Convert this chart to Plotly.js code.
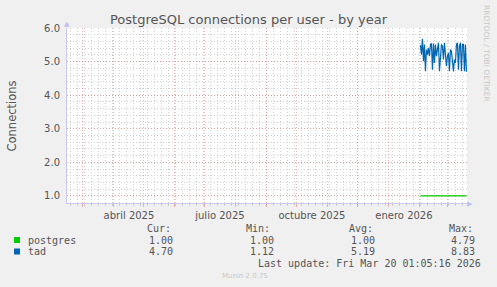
<!DOCTYPE html>
<html>
<head>
<meta charset="utf-8">
<script src="https://cdn.plot.ly/plotly-3.0.1.min.js"></script>
<style>
  html, body { margin: 0; padding: 0; background: #f0f0f0; }
  #chart { width: 497px; height: 287px; }
</style>
</head>
<body>
<div id="chart"></div>
<script>
// ---- data ----
const seriesNames = ['postgres', 'tad'];
const seriesColors = ['#00cc00', '#0066b3'];
const dates = [
  '2026-02-01 12:00','2026-02-02 12:00','2026-02-03 12:00','2026-02-04 12:00','2026-02-05 12:00',
  '2026-02-06 12:00','2026-02-07 12:00','2026-02-08 12:00','2026-02-09 12:00','2026-02-10 12:00',
  '2026-02-11 12:00','2026-02-12 12:00','2026-02-13 12:00','2026-02-14 12:00','2026-02-15 12:00',
  '2026-02-16 12:00','2026-02-17 12:00','2026-02-18 12:00','2026-02-19 12:00','2026-02-20 12:00',
  '2026-02-21 12:00','2026-02-22 12:00','2026-02-23 12:00','2026-02-24 12:00','2026-02-25 12:00',
  '2026-02-26 12:00','2026-02-27 12:00','2026-02-28 12:00','2026-03-01 12:00','2026-03-02 12:00',
  '2026-03-03 12:00','2026-03-04 12:00','2026-03-05 12:00','2026-03-06 12:00','2026-03-07 12:00',
  '2026-03-08 12:00','2026-03-09 12:00','2026-03-10 12:00','2026-03-11 12:00','2026-03-12 12:00',
  '2026-03-13 12:00','2026-03-14 12:00','2026-03-15 12:00','2026-03-16 12:00','2026-03-17 12:00',
  '2026-03-18 12:00','2026-03-19 12:00'
];
const postgresValues = [
  1.00,1.00,1.00,1.00,1.00,1.00,1.00,1.00,1.00,1.00,
  1.00,1.00,1.00,1.00,1.00,1.00,1.00,1.00,1.00,1.00,
  1.00,1.00,1.00,1.00,1.00,1.00,1.00,1.00,1.00,1.00,
  1.00,1.00,1.00,1.00,1.00,1.00,1.00,1.00,1.00,1.00,
  1.00,1.00,1.00,1.00,1.00,1.00,1.00
];
const tadValues = [
  5.49,5.21,5.68,5.01,5.51,4.71,5.36,5.21,5.41,5.16,
  5.51,5.54,4.76,5.54,4.96,5.51,5.16,5.36,5.56,4.71,
  5.26,5.51,5.46,5.06,5.56,5.11,4.86,5.16,5.26,4.71,
  5.36,5.31,5.01,4.71,5.06,4.96,5.51,5.56,4.76,5.46,
  5.56,4.71,5.51,5.51,4.71,5.51,4.70
];
const statCur = ['1.00', '4.70'];
const statMin = ['1.00', '1.12'];
const statAvg = ['1.00', '5.19'];
const statMax = ['4.79', '8.83'];
const statHeaders = ['Cur:', 'Min:', 'Avg:', 'Max:'];
const monthTicks = ['2025-03-01','2025-04-01','2025-05-01','2025-06-01','2025-07-01','2025-08-01',
  '2025-09-01','2025-10-01','2025-11-01','2025-12-01','2026-01-01','2026-02-01','2026-03-01'];
const monthLabels = ['','abril 2025','','','julio 2025','','','octubre 2025','','','enero 2026','',''];
const yTicks = [1, 2, 3, 4, 5, 6];
const rangeStart = '2025-02-13 01:05:16';
const rangeEnd = '2026-03-20 01:05:16';
const titleText = 'PostgreSQL connections per user - by year';
const yTitle = 'Connections';
const lastUpdate = 'Last update: Fri Mar 20 01:05:16 2026';
const versionText = 'Munin 2.0.75';
const sideText = 'RRDTOOL / TOBI OETIKER';

// ---- layout helpers (page px -> paper coords) ----
const W = 497, H = 287, L = 67, R = 30, T = 28, B = 84;
const PW = W - L - R, PH = H - T - B;
const px = x => (x - L) / PW;
const py = y => (H - B - y) / PH;

const mono = { family: 'DejaVu Sans Mono', size: 10, color: '#555' };
const annotations = [];
function txt(x, y, text, anchor, font, extra) {
  annotations.push(Object.assign({ xref: 'paper', yref: 'paper', x: px(x), y: py(y), text: text,
    showarrow: false, xanchor: anchor, yanchor: 'middle', font: font }, extra || {}));
}
// headers
const headerLeft = [145, 244, 346.5, 446.5];
statHeaders.forEach((h, i) => txt(headerLeft[i], 228, h, 'left', mono));
// rows
const rowY = [240, 251.5];
const colRight = [175, 275.5, 376.5, 477];
const shapes = [];
seriesNames.forEach((n, i) => {
  txt(26, rowY[i], n, 'left', mono);
  [statCur, statMin, statAvg, statMax].forEach((arr, j) => txt(colRight[j], rowY[i], arr[i], 'right', mono));
  shapes.push({ type: 'rect', xref: 'paper', yref: 'paper', x0: px(14), x1: px(20), y0: py(rowY[i] + 3), y1: py(rowY[i] - 3),
    fillcolor: seriesColors[i], line: { width: 0 } });
});
txt(482.5, 263.5, lastUpdate, 'right', mono);
txt(245, 276, versionText, 'center', { family: 'DejaVu Sans', size: 7, color: '#c8c8c8' });
txt(487, 53, sideText, 'center', { family: 'DejaVu Sans', size: 7.5, color: '#c8c8c8' }, { textangle: 90 });
txt(11, 115.5, yTitle, 'center', { family: 'DejaVu Sans', size: 11.5, color: '#555' }, { textangle: -90 });
// axis arrows
txt(66.5, 24, '▲', 'center', { family: 'DejaVu Sans', size: 7, color: '#c0c0f0' });
txt(470, 203.5, '▶', 'center', { family: 'DejaVu Sans', size: 7, color: '#c0c0f0' });

const traces = [
  { x: dates, y: postgresValues, name: seriesNames[0], type: 'scatter', mode: 'lines',
    line: { color: seriesColors[0], width: 1.2 } },
  { x: dates, y: tadValues, name: seriesNames[1], type: 'scatter', mode: 'lines',
    line: { color: seriesColors[1], width: 1.2 } }
];

const majorGrid = 'rgba(225,110,110,0.5)';
const minorGrid = '#d2d2d2';

const layout = {
  width: W, height: H,
  margin: { l: L, r: R, t: T, b: B },
  paper_bgcolor: '#f0f0f0',
  plot_bgcolor: '#ffffff',
  showlegend: false,
  title: { text: titleText, xref: 'container', yref: 'container', x: 0.5, y: 1 - 19.5 / H,
    xanchor: 'center', yanchor: 'middle', font: { family: 'DejaVu Sans', size: 13, color: '#555' } },
  xaxis: {
    type: 'date', range: [rangeStart, rangeEnd],
    tickmode: 'array', tickvals: monthTicks, ticktext: monthLabels,
    ticklabelshift: 15,
    showgrid: true, gridcolor: majorGrid, griddash: '1px,2px', gridwidth: 1,
    ticks: 'outside', ticklen: 3, tickcolor: majorGrid,
    showline: true, linecolor: '#c8c8f0', linewidth: 1,
    zeroline: false,
    tickfont: { family: 'DejaVu Sans', size: 10, color: '#555' },
    minor: { dtick: 7 * 86400000, tick0: '2025-03-10', showgrid: true, gridcolor: minorGrid,
      griddash: '1px,2px', ticks: 'outside', ticklen: 2, tickcolor: '#cccccc' },
    fixedrange: true
  },
  yaxis: {
    range: [0.79, 6.0],
    tickmode: 'array', tickvals: yTicks, tickformat: '.1f',
    showgrid: true, gridcolor: majorGrid, griddash: '1px,2px', gridwidth: 1,
    ticks: '', ticklabelstandoff: 4,
    showline: true, linecolor: '#c8c8f0', linewidth: 1,
    zeroline: false,
    tickfont: { family: 'DejaVu Sans', size: 10, color: '#555' },
    minor: { dtick: 0.2, tick0: 0, showgrid: true, gridcolor: minorGrid, griddash: '1px,2px' },
    fixedrange: true
  },
  annotations: annotations,
  shapes: shapes
};

Plotly.newPlot('chart', traces, layout, { displayModeBar: false, staticPlot: true });
</script>
</body>
</html>
